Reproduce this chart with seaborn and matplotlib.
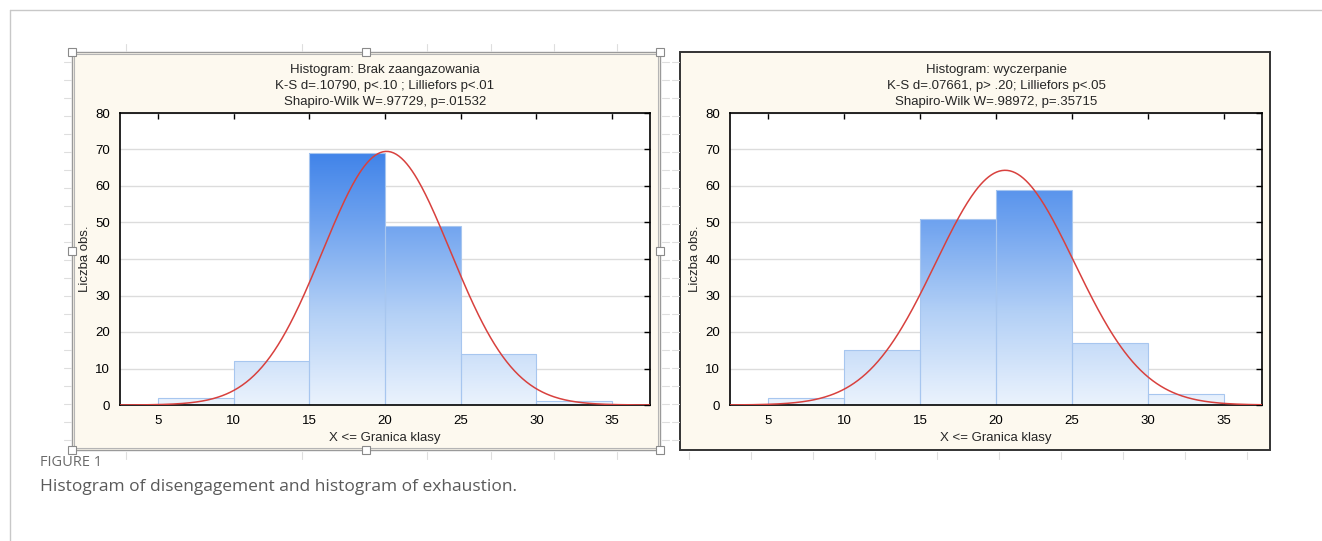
import numpy as np
import pandas as pd
import matplotlib
matplotlib.use("Agg")
import matplotlib.pyplot as plt
from matplotlib.colors import LinearSegmentedColormap
from matplotlib.patches import Rectangle
from matplotlib.lines import Line2D
import seaborn as sns

# histogram data
edges = [5, 10, 15, 20, 25, 30, 35]
counts_brak = [2, 12, 69, 49, 14, 1]
counts_wycz = [2, 15, 51, 59, 17, 3]
# fitted normal curves (mean, sd)
fit_brak = (20.1, 4.22)
fit_wycz = (20.6, 4.56)
titles = [
    "Histogram: Brak zaangazowania\nK-S d=.10790, p<.10 ; Lilliefors p<.01\nShapiro-Wilk W=.97729, p=.01532",
    "Histogram: wyczerpanie\nK-S d=.07661, p> .20; Lilliefors p<.05\nShapiro-Wilk W=.98972, p=.35715",
]
xticks = [5, 10, 15, 20, 25, 30, 35]
yticks = [0, 10, 20, 30, 40, 50, 60, 70, 80]

sns.set_style("white")
plt.rcParams['font.family'] = ['Liberation Sans', 'DejaVu Sans']

W, H = 1322, 541
fig = plt.figure(figsize=(W / 100, H / 100), dpi=100)
fig.patch.set_facecolor("white")

def px(x0, y0, x1, y1):
    return [x0 / W, 1 - y1 / H, (x1 - x0) / W, (y1 - y0) / H]

def hline(x0, x1, y, c, lw=1):
    fig.add_artist(Line2D([x0 / W, x1 / W], [1 - y / H, 1 - y / H], color=c, lw=lw))

def vline(x, y0, y1, c, lw=1):
    fig.add_artist(Line2D([x / W, x / W], [1 - y0 / H, 1 - y1 / H], color=c, lw=lw))

# outer page border
hline(10, W, 10, "#c8c8c8")
vline(10, 10, H, "#c8c8c8")

# faint ruler marks around the frames
for y in range(62, 446, 18):
    hline(64, 71, y, "#dedede", 0.8)
    hline(662, 669, y, "#dedede", 0.8)
    hline(672, 679, y, "#dedede", 0.8)
for x in (126, 302, 427, 491, 554, 617):
    vline(x, 452, 459, "#dedede", 0.8)
    vline(x, 44, 51, "#dedede", 0.8)
for x in range(689, 1260, 62):
    vline(x, 452, 459, "#dedede", 0.8)

# panel frames
frames = [(72, 52, 660, 450, "#9a9a9a", 1.0), (680, 52, 1270, 450, "#333333", 1.4)]
for x0, y0, x1, y1, ec, lw in frames:
    r = px(x0, y0, x1, y1)
    fig.add_artist(Rectangle((r[0], r[1]), r[2], r[3], transform=fig.transFigure,
                             facecolor="#fdf9ef", edgecolor=ec, lw=lw, zorder=0))
r = px(74, 54, 658, 448)
fig.add_artist(Rectangle((r[0], r[1]), r[2], r[3], transform=fig.transFigure,
                         facecolor="none", edgecolor="#b5b5b5", lw=0.8, zorder=0.5))

# selection handles on left frame
for hx in (72, 366, 660):
    for hy in (52, 251, 450):
        if hx == 366 and hy == 251:
            continue
        r = px(hx - 4, hy - 4, hx + 4, hy + 4)
        fig.add_artist(Rectangle((r[0], r[1]), r[2], r[3], transform=fig.transFigure,
                                 facecolor="white", edgecolor="#8a8a8a", lw=0.8, zorder=5))

cmap = LinearSegmentedColormap.from_list(
    "grad", [(0, "#ebf3fd"), (0.35, "#b3d0f6"), (0.7, "#6ea2ef"), (1, "#3a7fe8")])
grad = np.linspace(0, 1, 256).reshape(-1, 1)

axes_pos = [px(120, 113, 650, 405), px(730, 113, 1262, 405)]
for pos, counts, fit, title in zip(axes_pos, [counts_brak, counts_wycz],
                                   [fit_brak, fit_wycz], titles):
    ax = fig.add_axes(pos)
    ax.set_facecolor("white")
    centers = [(a + b) / 2 for a, b in zip(edges[:-1], edges[1:])]
    df = pd.DataFrame({"x": centers, "n": counts})
    sns.histplot(data=df, x="x", weights="n", bins=edges, ax=ax,
                 edgecolor="#a7c6ef", linewidth=0.8, zorder=2)
    for bar in ax.patches:
        bar.set_facecolor("none")
        im = ax.imshow(grad, cmap=cmap, origin="lower", aspect="auto",
                       extent=[2, 38, 0, 72], zorder=1.5, vmin=0, vmax=1)
        im.set_clip_path(bar)

    mu, sd = fit
    xs = np.linspace(2.5, 37.5, 400)
    ys = sum(counts) * 5 / (sd * np.sqrt(2 * np.pi)) * np.exp(-0.5 * ((xs - mu) / sd) ** 2)
    sns.lineplot(x=xs, y=ys, ax=ax, color="#d8413e", lw=1.1, zorder=4)

    ax.set_xlim(2.5, 37.5)
    ax.set_ylim(0, 80)
    ax.set_xticks(xticks)
    ax.set_yticks(yticks)
    ax.yaxis.grid(True, color="#dcdcdc", lw=1.0, zorder=0)
    ax.set_axisbelow(True)
    for s in ax.spines.values():
        s.set_visible(True)
        s.set_color("black")
        s.set_linewidth(1.2)
    ax.tick_params(axis="both", direction="in", length=4, width=1, labelsize=9.5,
                   top=True, right=True, pad=7, colors="black")
    ax.set_xlabel("X <= Granica klasy", fontsize=9.5, labelpad=4)
    ax.set_ylabel("Liczba obs.", fontsize=9.5, labelpad=3)
    ax.set_title(title, fontsize=9.5, linespacing=1.45, pad=6)

fig.text(40 / W, 1 - 463 / H, "FIGURE 1", fontsize=10.5, color="#6a6a6a",
         family=["Open Sans", "DejaVu Sans"], va="center")
fig.text(40 / W, 1 - 487 / H, "Histogram of disengagement and histogram of exhaustion.",
         fontsize=12.5, color="#5a5a5a", family=["Open Sans", "DejaVu Sans"], va="center")

fig.savefig("out.png", dpi=100)
